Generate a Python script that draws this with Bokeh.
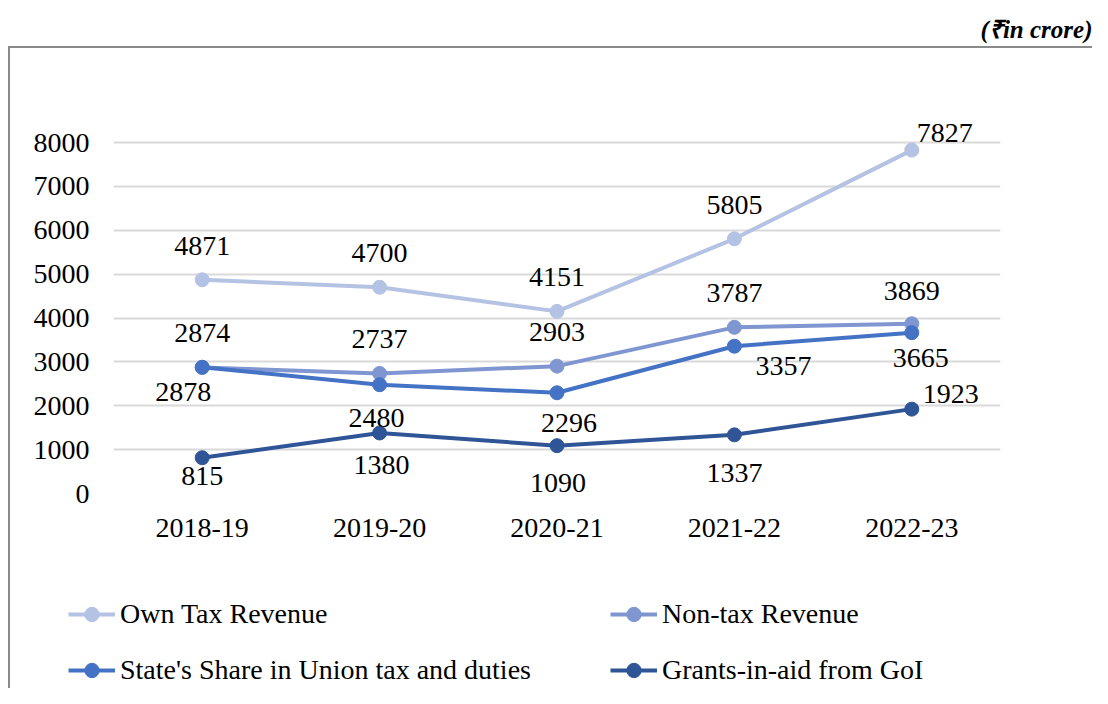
from bokeh.plotting import figure
from bokeh.models import Range1d, FixedTicker, Legend, LegendItem, ColumnDataSource
from bokeh.embed import file_html
from bokeh.resources import INLINE
from bokeh.core.properties import value

# ---------------- data ----------------
years = ["2018-19", "2019-20", "2020-21", "2021-22", "2022-23"]
own_tax = [4871, 4700, 4151, 5805, 7827]
non_tax = [2874, 2737, 2903, 3787, 3869]
state_share = [2878, 2480, 2296, 3357, 3665]
grants = [815, 1380, 1090, 1337, 1923]
series_names = ["Own Tax Revenue", "Non-tax Revenue",
                "State's Share in Union tax and duties", "Grants-in-aid from GoI"]
y_ticks = [0, 1000, 2000, 3000, 4000, 5000, 6000, 7000, 8000]
unit_note = "(\u20b9in crore)"

# ---------------- styles ----------------
colors = ["#B4C2E3", "#7F96D1", "#4472C4", "#2F5597"]
label_dx = [[0, 0, 0, 0, 33], [0, 0, 0, 0, 0], [-19, -3, 12, 49, 9], [0, 2, 1, 0, 39]]
label_dy = [[-34, -34, -34, -34, -17], [-34, -34, -34, -34, -33],
            [25, 33, 30, 20, 25], [18, 32, 37, 38, -15]]
FONT = "Liberation Serif"
FS = "28px"
BOX = "#8a8a8a"

# ---------------- main chart ----------------
p = figure(x_range=years, y_range=Range1d(0, 10234), width=1092, height=560,
           output_backend="svg", toolbar_location=None,
           min_border_left=113, min_border_right=92, min_border_top=44, min_border_bottom=67)
p.border_fill_color = None
p.background_fill_color = None
p.outline_line_color = None
p.styles = {
    "background-image": f"linear-gradient({BOX},{BOX}), linear-gradient({BOX},{BOX})",
    "background-size": "100% 2px, 2px 100%",
    "background-position": "8px 46px, 8px 46px",
    "background-repeat": "no-repeat",
}
p.x_range.range_padding = 0

p.title.text = unit_note
p.title.align = "right"
p.title.offset = -92
p.title.text_font = FONT
p.title.text_font_style = "bold italic"
p.title.text_font_size = "25px"
p.title.text_color = "#000000"
p.title.standoff = 4

p.yaxis.ticker = FixedTicker(ticks=y_ticks)
p.ygrid.ticker = FixedTicker(ticks=y_ticks)
p.xgrid.visible = False
p.ygrid.grid_line_color = "#d9d9d9"
p.ygrid.grid_line_width = 2

for ax in (p.xaxis, p.yaxis):
    ax.axis_line_color = None
    ax.major_tick_line_color = None
    ax.minor_tick_line_color = None
    ax.major_tick_out = 0
    ax.major_tick_in = 0
    ax.major_label_text_font = FONT
    ax.major_label_text_font_size = FS
    ax.major_label_text_color = "#000000"
p.yaxis.major_label_standoff = 24
p.xaxis.major_label_standoff = 25

all_series = [own_tax, non_tax, state_share, grants]
for i, vals in enumerate(all_series):
    src = ColumnDataSource(dict(x=years, y=vals))
    p.line("x", "y", source=src, line_color=colors[i], line_width=4)
    p.scatter("x", "y", source=src, size=14, fill_color=colors[i], line_color=colors[i])

for i, vals in enumerate(all_series):
    src = ColumnDataSource(dict(x=years, y=vals, t=[str(v) for v in vals],
                                dx=label_dx[i], dy=label_dy[i]))
    p.text("x", "y", text="t", source=src, x_offset="dx", y_offset="dy",
           text_align="center", text_baseline="middle",
           text_font=value(FONT), text_font_size=value(FS), text_color="#000000")

# ---------------- legend strip (below the chart) ----------------
lf = figure(width=1092, height=128, output_backend="svg", toolbar_location=None,
            x_axis_type=None, y_axis_type=None, min_border=0,
            x_range=Range1d(0, 1), y_range=Range1d(0, 1))
lf.border_fill_color = None
lf.background_fill_color = None
lf.outline_line_color = None
lf.grid.visible = False
lf.styles = {
    "background-image": f"linear-gradient({BOX},{BOX})",
    "background-size": "2px 100%",
    "background-position": "8px 0px",
    "background-repeat": "no-repeat",
}
items = []
for i, name in enumerate(series_names):
    # legend-only swatch renderers (no visible data)
    swatch = ColumnDataSource(dict(x=[float("nan")], y=[float("nan")]))
    rl = lf.line("x", "y", source=swatch, line_color=colors[i], line_width=4)
    rs = lf.scatter("x", "y", source=swatch, size=14, fill_color=colors[i], line_color=colors[i])
    items.append(LegendItem(label=name, renderers=[rl, rs]))

legend = Legend(items=items, orientation="horizontal", ncols=2,
                location=(68, 0), padding=0, margin=0, spacing=20,
                glyph_width=47, glyph_height=36, label_height=30, label_width=470,
                label_standoff=5, label_text_font=FONT, label_text_font_size=FS,
                label_text_color="#000000",
                border_line_color=None, background_fill_alpha=0)
lf.add_layout(legend)

open("out.html", "w").write(file_html([p, lf], INLINE))
